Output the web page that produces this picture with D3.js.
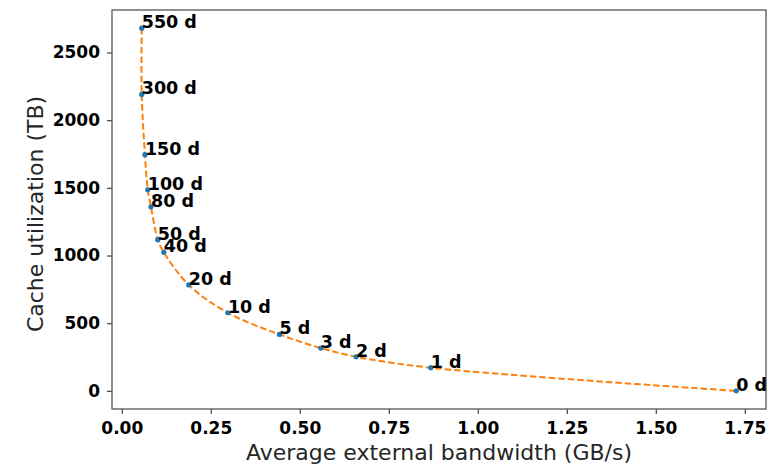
<!DOCTYPE html>
<html>
<head>
<meta charset="utf-8">
<script src="https://cdn.jsdelivr.net/npm/d3@7"></script>
<style>
  body { margin: 0; background: #fff; }
  #chart { width: 782px; height: 468px; }
  text { font-family: "DejaVu Sans", sans-serif; }
</style>
</head>
<body>
<div id="chart"></div>
<script>
// retention period labels and the measured points
const labels = ["550 d", "300 d", "150 d", "100 d", "80 d", "50 d", "40 d", "20 d", "10 d", "5 d", "3 d", "2 d", "1 d", "0 d"];
const bandwidth = [0.056, 0.056, 0.065, 0.073, 0.082, 0.101, 0.118, 0.188, 0.298, 0.443, 0.559, 0.658, 0.868, 1.726];
const cacheTB = [2680, 2190, 1745, 1485, 1360, 1117, 1024, 783, 577, 417, 316, 252, 171, 0];
const xTicks = [0, 0.25, 0.5, 0.75, 1.0, 1.25, 1.5, 1.75];
const yTicks = [0, 500, 1000, 1500, 2000, 2500];

function draw() {
  const w = 782, h = 468;
  const margin = { top: 10, right: 16, bottom: 59, left: 112 };
  const innerW = w - margin.left - margin.right;
  const innerH = h - margin.top - margin.bottom;

  const data = labels.map((l, i) => ({ label: l, x: bandwidth[i], y: cacheTB[i] }));

  const svg = d3.select("#chart").append("svg")
    .attr("width", w).attr("height", h);
  const g = svg.append("g").attr("transform", `translate(${margin.left},${margin.top})`);

  // matplotlib-like 5% margins
  const [x0, x1] = d3.extent(bandwidth);
  const [y0, y1] = d3.extent(cacheTB);
  const xPad = (x1 - x0) * 0.05, yPad = (y1 - y0) * 0.05;
  const x = d3.scaleLinear().domain([x0 - xPad, x1 + xPad]).range([0, innerW]);
  const y = d3.scaleLinear().domain([y0 - yPad, y1 + yPad]).range([innerH, 0]);

  // axes
  const xAxis = g.append("g")
    .attr("transform", `translate(0,${innerH})`)
    .call(d3.axisBottom(x).tickValues(xTicks).tickFormat(d3.format(".2f")).tickSize(5).tickPadding(8).tickSizeOuter(0));
  const yAxis = g.append("g")
    .call(d3.axisLeft(y).tickValues(yTicks).tickFormat(d3.format("d")).tickSize(5).tickPadding(7).tickSizeOuter(0));
  [xAxis, yAxis].forEach(a => {
    a.select(".domain").remove();
    a.selectAll(".tick line").attr("stroke", "#444").attr("stroke-width", 1.2);
    a.selectAll(".tick text")
      .attr("fill", "#000")
      .style("font-family", "'DejaVu Sans', sans-serif")
      .style("font-weight", "bold")
      .style("font-size", "17px");
  });

  // frame
  g.append("rect")
    .attr("width", innerW).attr("height", innerH)
    .attr("fill", "none").attr("stroke", "#555").attr("stroke-width", 1.3);

  // dashed curve
  const line = d3.line()
    .x(d => x(d.x)).y(d => y(d.y))
    .curve(d3.curveCatmullRom.alpha(0.5));
  g.append("path")
    .datum(data)
    .attr("d", line)
    .attr("fill", "none")
    .attr("stroke", "#ff7f0e")
    .attr("stroke-width", 2)
    .attr("stroke-dasharray", "6.5,3");

  // points
  g.selectAll("circle.pt")
    .data(data)
    .join("circle")
    .attr("class", "pt")
    .attr("cx", d => x(d.x)).attr("cy", d => y(d.y))
    .attr("r", 2.6)
    .attr("fill", "#1f77b4");

  // annotations
  g.selectAll("text.lbl")
    .data(data)
    .join("text")
    .attr("class", "lbl")
    .attr("x", d => x(d.x)).attr("y", d => y(d.y))
    .attr("fill", "#000")
    .style("font-weight", "bold")
    .style("font-size", "17.5px")
    .text(d => d.label);

  // axis labels
  svg.append("text")
    .attr("x", margin.left + innerW / 2)
    .attr("y", 460)
    .attr("text-anchor", "middle")
    .attr("fill", "#262626")
    .style("font-size", "22px")
    .text("Average external bandwidth (GB/s)");

  svg.append("text")
    .attr("transform", `translate(43,214) rotate(-90)`)
    .attr("text-anchor", "middle")
    .attr("fill", "#262626")
    .style("font-size", "22px")
    .text("Cache utilization (TB)");
}

draw();
</script>
</body>
</html>
